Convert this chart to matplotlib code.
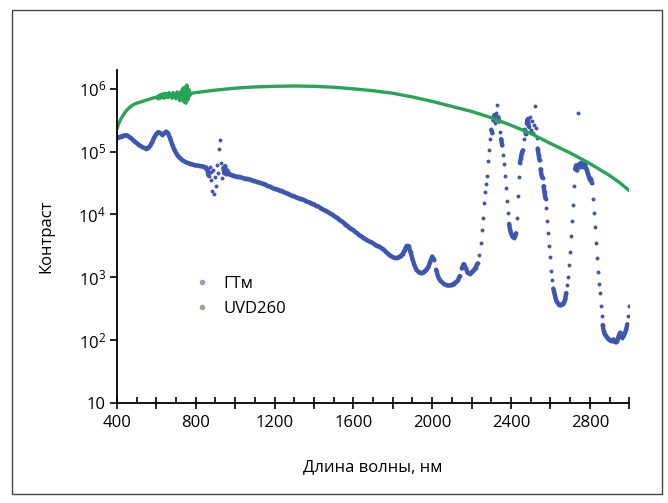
import numpy as np
import matplotlib
matplotlib.use("Agg")
import matplotlib.pyplot as plt
from matplotlib.lines import Line2D
from matplotlib.patches import Rectangle
from matplotlib.ticker import FixedLocator, MultipleLocator, FuncFormatter

plt.rcParams['font.family'] = ['Open Sans', 'DejaVu Sans']

BLUE = '#3d56b0'
GREEN = '#27a557'

# ГТм, log10(contrast) in four pieces
gtm_a_wl = np.arange(400, 851, 10)
gtm_a = [5.21, 5.23, 5.24, 5.25, 5.26, 5.26, 5.24, 5.22, 5.19, 5.16,
         5.14, 5.11, 5.09, 5.07, 5.06, 5.05, 5.06, 5.10, 5.16, 5.23,
         5.28, 5.31, 5.30, 5.27, 5.29, 5.32, 5.29, 5.21, 5.12, 5.04,
         4.98, 4.93, 4.90, 4.87, 4.85, 4.83, 4.82, 4.81, 4.80, 4.79,
         4.78, 4.78, 4.77, 4.77, 4.76, 4.75]

gtm_b_wl = np.arange(855, 961, 5)
gtm_b = [4.72, 4.70, 4.62, 4.76, 4.55, 4.68, 4.38, 4.71, 4.32, 4.60,
         4.45, 4.78, 4.66, 5.05, 5.18, 4.82, 4.58, 4.74, 4.66, 4.77,
         4.64, 4.70]

gtm_c_wl = np.arange(970, 2251, 10)
gtm_c = [4.64, 4.63, 4.62, 4.61, 4.60, 4.60, 4.59, 4.58, 4.57, 4.57,
         4.56, 4.55, 4.54, 4.53, 4.52, 4.51, 4.50, 4.49, 4.48, 4.46,
         4.45, 4.44, 4.42, 4.41, 4.40, 4.39, 4.38, 4.37, 4.35, 4.34,
         4.33, 4.31, 4.30, 4.29, 4.27, 4.26, 4.25, 4.24, 4.23, 4.21,
         4.20, 4.19, 4.17, 4.16, 4.14, 4.13, 4.11, 4.09, 4.07, 4.06,
         4.04, 4.02, 4.00, 3.98, 3.96, 3.94, 3.91, 3.89, 3.87, 3.84,
         3.82, 3.79, 3.77, 3.75, 3.72, 3.70, 3.67, 3.65, 3.63, 3.61,
         3.59, 3.57, 3.56, 3.54, 3.52, 3.50, 3.49, 3.47, 3.45, 3.42,
         3.39, 3.36, 3.34, 3.32, 3.31, 3.31, 3.32, 3.34, 3.37, 3.43,
         3.50, 3.50, 3.40, 3.29, 3.19, 3.12, 3.09, 3.07, 3.07, 3.09,
         3.12, 3.16, 3.25, 3.33, 3.28, 3.12, 3.01, 2.95, 2.92, 2.89,
         2.88, 2.87, 2.87, 2.88, 2.90, 2.92, 2.95, 3.02, 3.14, 3.21,
         3.15, 3.07, 3.06, 3.08, 3.11, 3.15, 3.22, 3.35, 3.55]

gtm_d_wl = np.arange(2255, 3001, 5)
gtm_d = [3.75, 3.95, 4.18, 4.35, 4.48, 4.62, 4.85, 5.02, 5.20, 5.35,
         5.30, 5.50, 5.58, 5.45, 5.62, 5.75, 5.55, 5.48, 5.32, 5.20,
         5.10, 4.95, 4.80, 4.62, 4.42, 4.22, 4.02, 3.85, 3.76, 3.70,
         3.66, 3.64, 3.63, 3.65, 3.70, 3.95, 4.30, 4.60, 4.82, 4.90,
         4.98, 5.02, 5.20, 5.35, 5.28, 5.45, 5.52, 5.40, 5.55, 5.35,
         5.48, 5.30, 5.42, 5.72, 5.38, 5.22, 5.05, 4.95, 4.86, 4.72,
         4.62, 4.58, 4.45, 4.35, 4.25, 4.10, 3.90, 3.70, 3.50, 3.32,
         3.10, 2.95, 2.82, 2.75, 2.68, 2.63, 2.60, 2.58, 2.56, 2.56,
         2.56, 2.57, 2.58, 2.61, 2.65, 2.75, 2.88, 3.00, 3.20, 3.40,
         3.65, 3.90, 4.15, 4.45, 4.72, 4.78, 4.70, 5.62, 4.80, 4.75,
         4.82, 4.80, 4.76, 4.78, 4.80, 4.74, 4.70, 4.65, 4.60, 4.55,
         4.57, 4.50, 4.25, 4.02, 3.80, 3.55, 3.30, 3.08, 2.90, 2.75,
         2.55, 2.38, 2.24, 2.15, 2.10, 2.07, 2.05, 2.03, 2.01, 2.00,
         1.99, 1.99, 2.00, 2.01, 1.98, 1.97, 1.97, 1.99, 2.05, 2.10,
         2.12, 2.08, 2.04, 2.06, 2.10, 2.13, 2.18, 2.25, 2.38, 2.55]

# UVD260, log10(contrast)
uvd_wl = [400, 410, 420, 430, 440, 450, 460, 470, 480, 490,
          500, 510, 520, 530, 540, 550, 560, 570, 580, 590, 600,
          605, 610, 615, 620, 625, 630, 635, 640, 645, 650,
          655, 660, 665, 670, 675, 680, 685, 690, 695, 700,
          705, 710, 715, 720, 725, 730, 735, 740, 745, 750,
          755, 760, 765, 770, 775,
          780, 800, 850, 900, 1000, 1100, 1200, 1300, 1400, 1500,
          1600, 1700, 1800, 1900, 2000, 2100, 2200, 2300, 2400, 2500,
          2600, 2700, 2800, 2900, 2950, 3000]
uvd = [5.36, 5.45, 5.52, 5.57, 5.62, 5.66, 5.69, 5.72, 5.74, 5.76,
       5.77, 5.78, 5.79, 5.80, 5.81, 5.82, 5.83, 5.84, 5.85, 5.86, 5.86,
       5.88, 5.84, 5.90, 5.85, 5.91, 5.86, 5.92, 5.85, 5.93, 5.87,
       5.92, 5.86, 5.94, 5.88, 5.91, 5.85, 5.94, 5.87, 5.92, 5.84,
       5.95, 5.86, 5.93, 5.81, 5.96, 5.83, 6.01, 5.79, 6.03, 5.77,
       6.06, 5.82, 5.99, 5.89, 5.93,
       5.93, 5.94, 5.96, 5.98, 6.01, 6.03, 6.04, 6.045, 6.04, 6.025,
       6.00, 5.97, 5.93, 5.87, 5.80, 5.72, 5.64, 5.54, 5.42, 5.29,
       5.13, 4.98, 4.81, 4.62, 4.51, 4.38]

x_ticks = [400, 800, 1200, 1600, 2000, 2400, 2800]
y_ticks = [1e1, 1e2, 1e3, 1e4, 1e5, 1e6]

gtm_wl = np.concatenate([gtm_a_wl, gtm_b_wl, gtm_c_wl, gtm_d_wl])
gtm_log = np.array(gtm_a + gtm_b + gtm_c + gtm_d)
gtm = 10 ** gtm_log

fig = plt.figure(figsize=(6.68, 5.03), dpi=100)
ax = fig.add_axes([0.175, 0.199, 0.767, 0.662])

# dots everywhere, joined only where neighbours are close (dense parts look solid)
jump = np.abs(np.diff(gtm_log)) > 0.12
for s in np.split(np.arange(len(gtm_wl)), np.where(jump)[0] + 1):
    if len(s) > 1:
        ax.plot(gtm_wl[s], gtm[s], color=BLUE, lw=3.2, solid_capstyle='round')
ax.plot(gtm_wl, gtm, 'o', ms=2.8, color=BLUE, mec='none')

ax.plot(uvd_wl, 10 ** np.array(uvd), color=GREEN, lw=2.4)

ax.set_yscale('log')
ax.set_xlim(400, 3000)
ax.set_ylim(10, 2e6)

ax.yaxis.set_major_locator(FixedLocator(y_ticks))
ax.yaxis.set_minor_locator(FixedLocator([]))
ax.yaxis.set_major_formatter(FuncFormatter(
    lambda v, p: '10' if v < 20 else r'$\mathregular{10^{%d}}$' % round(np.log10(v))))

ax.xaxis.set_major_locator(MultipleLocator(200))
ax.xaxis.set_minor_locator(MultipleLocator(100))
ax.xaxis.set_major_formatter(FuncFormatter(
    lambda v, p: '%d' % v if int(round(v)) in x_ticks else ''))

ax.tick_params(axis='x', which='major', direction='inout', length=8, width=1.2,
               labelsize=12, pad=5)
ax.tick_params(axis='x', which='minor', direction='in', length=4, width=1.2)
ax.tick_params(axis='y', which='major', direction='out', length=5, width=1.2,
               labelsize=12, pad=3)

for side in ['top', 'right']:
    ax.spines[side].set_visible(False)
for side in ['left', 'bottom']:
    ax.spines[side].set_linewidth(1.3)

ax.set_xlabel('Длина волны, нм', fontsize=12, labelpad=20)
ax.set_ylabel('Контраст', fontsize=12, labelpad=17)

handles = [Line2D([], [], ls='none', marker='o', ms=3, color='#9a9ec0'),
           Line2D([], [], ls='none', marker='o', ms=3, color='#9aa38c')]
ax.legend(handles, ['ГТм', 'UVD260'], loc='center left', bbox_to_anchor=(0.12, 0.32),
          frameon=False, fontsize=12, handlelength=1.0, handletextpad=0.8,
          labelspacing=0.5)

fig.patches.append(Rectangle((0.018, 0.018), 0.973, 0.962, transform=fig.transFigure,
                             fill=False, edgecolor='#444444', lw=1.0))

fig.savefig('out.png', dpi=100)
